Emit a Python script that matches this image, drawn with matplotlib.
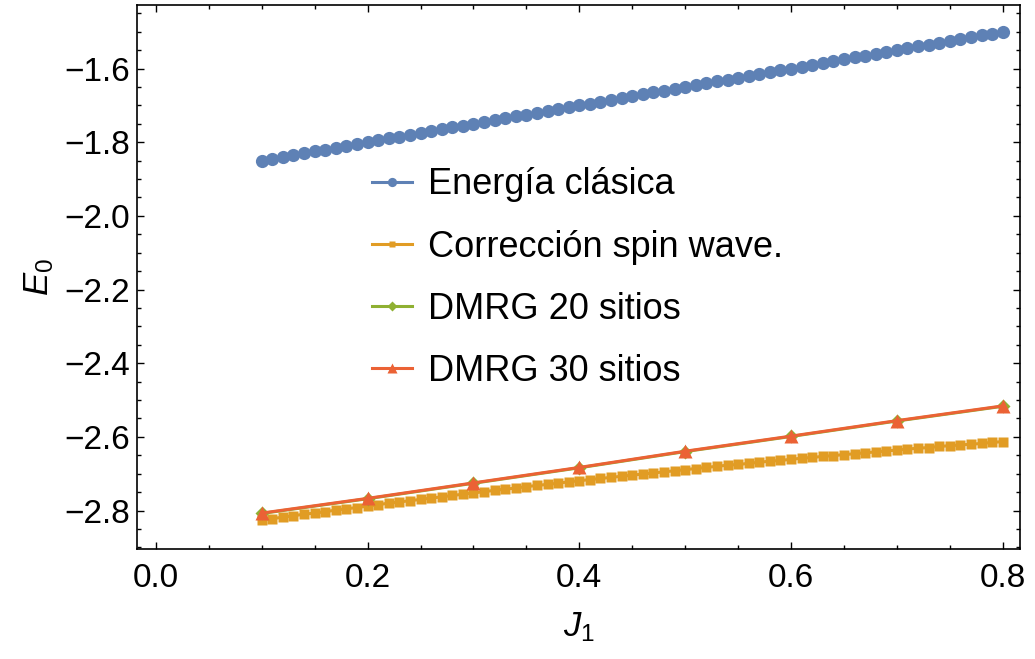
import matplotlib
matplotlib.use("Agg")
import matplotlib.pyplot as plt
from matplotlib.ticker import MultipleLocator, FixedLocator

# ──────────────────────────────────────────────────────────────────────
# DATA
# ──────────────────────────────────────────────────────────────────────

j1_fine = [
    0.10, 0.11, 0.12, 0.13, 0.14, 0.15, 0.16, 0.17, 0.18, 0.19,
    0.20, 0.21, 0.22, 0.23, 0.24, 0.25, 0.26, 0.27, 0.28, 0.29,
    0.30, 0.31, 0.32, 0.33, 0.34, 0.35, 0.36, 0.37, 0.38, 0.39,
    0.40, 0.41, 0.42, 0.43, 0.44, 0.45, 0.46, 0.47, 0.48, 0.49,
    0.50, 0.51, 0.52, 0.53, 0.54, 0.55, 0.56, 0.57, 0.58, 0.59,
    0.60, 0.61, 0.62, 0.63, 0.64, 0.65, 0.66, 0.67, 0.68, 0.69,
    0.70, 0.71, 0.72, 0.73, 0.74, 0.75, 0.76, 0.77, 0.78, 0.79,
    0.80,
]

e_clasica = [
    -1.850, -1.845, -1.840, -1.835, -1.830, -1.825, -1.820, -1.815, -1.810, -1.805,
    -1.800, -1.795, -1.790, -1.785, -1.780, -1.775, -1.770, -1.765, -1.760, -1.755,
    -1.750, -1.745, -1.740, -1.735, -1.730, -1.725, -1.720, -1.715, -1.710, -1.705,
    -1.700, -1.695, -1.690, -1.685, -1.680, -1.675, -1.670, -1.665, -1.660, -1.655,
    -1.650, -1.645, -1.640, -1.635, -1.630, -1.625, -1.620, -1.615, -1.610, -1.605,
    -1.600, -1.595, -1.590, -1.585, -1.580, -1.575, -1.570, -1.565, -1.560, -1.555,
    -1.550, -1.545, -1.540, -1.535, -1.530, -1.525, -1.520, -1.515, -1.510, -1.505,
    -1.500,
]

e_spin_wave = [
    -2.826, -2.822, -2.818, -2.814, -2.810, -2.807, -2.803, -2.799, -2.795, -2.792,
    -2.788, -2.784, -2.780, -2.777, -2.773, -2.770, -2.766, -2.763, -2.759, -2.756,
    -2.752, -2.749, -2.745, -2.742, -2.739, -2.735, -2.732, -2.729, -2.726, -2.722,
    -2.719, -2.716, -2.713, -2.710, -2.707, -2.704, -2.701, -2.698, -2.695, -2.692,
    -2.689, -2.686, -2.683, -2.680, -2.677, -2.675, -2.672, -2.669, -2.666, -2.664,
    -2.661, -2.658, -2.656, -2.653, -2.651, -2.648, -2.646, -2.643, -2.641, -2.638,
    -2.636, -2.633, -2.631, -2.629, -2.626, -2.624, -2.622, -2.620, -2.618, -2.615,
    -2.613,
]

j1_dmrg = [0.1, 0.2, 0.3, 0.4, 0.5, 0.6, 0.7, 0.8]
e_dmrg_20 = [-2.808, -2.768, -2.726, -2.684, -2.640, -2.599, -2.557, -2.517]
e_dmrg_30 = [-2.807, -2.767, -2.725, -2.683, -2.639, -2.598, -2.556, -2.516]

labels = ["Energía clásica", "Corrección spin wave.", "DMRG 20 sitios", "DMRG 30 sitios"]
colors = ["#5E81B5", "#E19C24", "#8FB032", "#EB6235"]

x_ticks = [0.0, 0.2, 0.4, 0.6, 0.8]
y_ticks = [-2.8, -2.6, -2.4, -2.2, -2.0, -1.8, -1.6]

# ──────────────────────────────────────────────────────────────────────
# STYLE
# ──────────────────────────────────────────────────────────────────────

plt.rcParams["font.family"] = ["Liberation Sans", "DejaVu Sans"]
plt.rcParams["mathtext.fontset"] = "custom"
plt.rcParams["mathtext.rm"] = "Liberation Sans"
plt.rcParams["mathtext.it"] = "Liberation Sans:italic"
plt.rcParams["axes.unicode_minus"] = True

fig = plt.figure(figsize=(10.35, 6.59), dpi=100)
ax = fig.add_axes([0.1324, 0.1669, 0.8531, 0.8255])

# ──────────────────────────────────────────────────────────────────────
# PLOT
# ──────────────────────────────────────────────────────────────────────

ax.plot(j1_fine, e_clasica, color=colors[0], lw=2.2, marker="o", ms=9.5,
        mec="none", label=labels[0], zorder=3)
ax.plot(j1_fine, e_spin_wave, color=colors[1], lw=2.2, marker="s", ms=6.8,
        mec="none", label=labels[1], zorder=3)
ax.plot(j1_dmrg, e_dmrg_20, color=colors[2], lw=2.2, marker="D", ms=7.5,
        mec="none", label=labels[2], zorder=4)
ax.plot(j1_dmrg, e_dmrg_30, color=colors[3], lw=2.2, marker="^", ms=10.0,
        mec="none", label=labels[3], zorder=5)

ax.set_xlim(-0.0178, 0.8163)
ax.set_ylim(-2.9045, -1.4276)

ax.xaxis.set_major_locator(FixedLocator(x_ticks))
ax.yaxis.set_major_locator(FixedLocator(y_ticks))
ax.xaxis.set_minor_locator(MultipleLocator(0.05))
ax.yaxis.set_minor_locator(MultipleLocator(0.05))
ax.set_xticklabels([f"{t:.1f}" for t in x_ticks])
ax.set_yticklabels([f"{t:.1f}".replace("-", "\u2212") for t in y_ticks])

ax.tick_params(which="both", direction="in", top=True, right=True,
               labelsize=24, width=1.0, color="black")
ax.tick_params(which="major", length=5)
ax.tick_params(which="minor", length=3)
ax.tick_params(axis="x", pad=10)
ax.tick_params(axis="y", pad=5)
for sp in ax.spines.values():
    sp.set_linewidth(1.2)

ax.set_xlabel("$J_1$", fontsize=25, labelpad=12)
ax.set_ylabel("$E_0$", fontsize=25, labelpad=6)

leg = ax.legend(loc="upper left", bbox_to_anchor=(0.25, 0.728), frameon=False,
                fontsize=26, handlelength=1.1, handletextpad=0.45,
                labelspacing=0.75, markerscale=0.7, borderaxespad=0)

fig.savefig("out.png", dpi=100)
